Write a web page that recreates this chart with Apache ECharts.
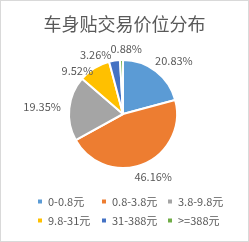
<!DOCTYPE html>
<html>
<head>
<meta charset="utf-8">
<script src="https://cdn.jsdelivr.net/npm/echarts@6/dist/echarts.min.js"></script>
<style>
html, body { margin: 0; padding: 0; background: #fff; }
#chart { width: 247px; height: 240px; border: 1px solid #d9d9d9; }
</style>
</head>
<body>
<div id="chart"></div>
<script>
const categories = ['0-0.8元', '0.8-3.8元', '3.8-9.8元', '9.8-31元', '31-388元', '>=388元']
const shares = [20.83, 46.16, 19.35, 9.52, 3.26, 0.88]
const colors = ['#5B9BD5', '#ED7D31', '#A5A5A5', '#FFC000', '#4472C4', '#70AD47']

const font = '"Noto Sans CJK SC", "Noto Sans", sans-serif'
const pieCenter = [122, 113]
const pieRadius = 54
// Excel 的标签位置有些错开, 这里做微调
const labelNudge = [[6, 5], [4, -2], [-4, 1], [-8, 17], [-17, 6], [5, -1]]
// 图例 3 列 2 行
const legendCols = [35, 99, 165]
const legendRows = [195, 214]

const total = shares.reduce((a, b) => a + b, 0)
const midAngles = []
let acc = 0
shares.forEach(v => {
    midAngles.push((acc + v / 2) / total * Math.PI * 2)
    acc += v
})

const myChart = echarts.init(document.getElementById('chart'))
const option = {
    color: colors,
    title: {
        text: '车身贴交易价位分布',
        left: 'center',
        top: 9,
        textStyle: {
            color: '#595959',
            fontSize: 18,
            fontWeight: 'normal',
            fontFamily: font
        }
    },
    legend: categories.map((name, i) => ({
        left: legendCols[i % 3],
        top: legendRows[Math.floor(i / 3)],
        padding: 0,
        itemWidth: 6,
        itemHeight: 6,
        icon: 'rect',
        textStyle: {
            color: '#595959',
            fontSize: 11,
            fontFamily: font
        },
        data: [name]
    })),
    series: [{
        type: 'pie',
        center: pieCenter,
        radius: pieRadius,
        startAngle: 90,
        clockwise: true,
        silent: true,
        itemStyle: {
            borderColor: '#fff',
            borderWidth: 2
        },
        label: {
            show: true,
            position: 'outside',
            formatter: p => p.value.toFixed(2) + '%',
            color: '#595959',
            fontSize: 11,
            fontFamily: font
        },
        labelLine: { show: false, length: 4, length2: 0 },
        labelLayout: params => {
            const a = midAngles[params.dataIndex]
            const dx = Math.sin(a), dy = -Math.cos(a)
            const w = params.labelRect.width, h = params.labelRect.height
            const d = pieRadius + 4 + Math.abs(dx) * w / 2 + Math.abs(dy) * h / 2
            const n = labelNudge[params.dataIndex]
            return {
                x: pieCenter[0] + dx * d + n[0],
                y: pieCenter[1] + dy * d + n[1],
                align: 'center',
                verticalAlign: 'middle'
            }
        },
        data: categories.map((name, i) => ({ name: name, value: shares[i] }))
    }]
}
myChart.setOption(option)
</script>
</body>
</html>
